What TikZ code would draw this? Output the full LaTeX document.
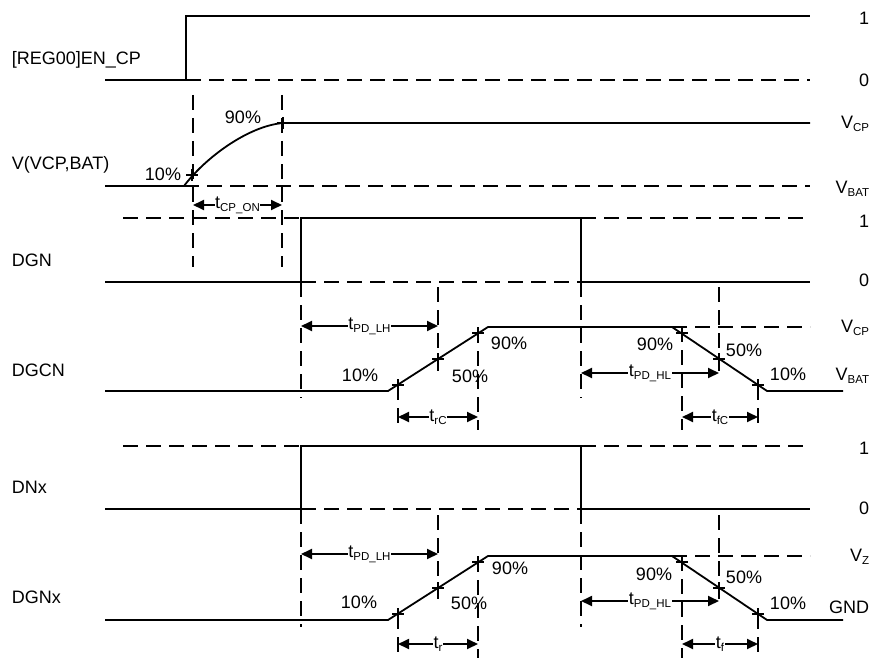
\documentclass[tikz,border=0pt]{standalone}
\usepackage{fontspec}
\setmainfont{Liberation Sans}
\usetikzlibrary{arrows.meta}
\newcommand{\lowtxt}[1]{\raisebox{-0.35ex}{\fontsize{11.5}{12}\selectfont #1}}
\newcommand{\plusmark}[1]{\draw (#1) +(-6,0) -- +(6,0) (#1) +(0,-6) -- +(0,6);}

\begin{document}
\begin{tikzpicture}[
x=1pt, y=-1pt,
every node/.style={inner sep=1pt, font=\fontsize{18}{21}\selectfont},
every path/.style={line width=1.8pt},
guide/.style={dash pattern=on 15pt off 8pt},
dim/.style={{Triangle[length=11pt,width=10pt]}-{Triangle[length=11pt,width=10pt]}},
gap/.style={fill=white, inner sep=0.5pt}
]
\useasboundingbox (0,0) rectangle (875,658);

% signal names
\node[anchor=west] (en) at (10,60) {[REG00]EN\_CP};
\node[anchor=west] (vcp) at (10,165) {V(VCP,BAT)};
\node[anchor=west] (dgn) at (10,260) {DGN};
\node[anchor=west] (dgcn) at (10,370) {DGCN};
\node[anchor=west] (dnx) at (10,487) {DNx};
\node[anchor=west] (dgnx) at (10,597) {DGNx};

% levels
\node[anchor=east] (en1) at (871,18) {1};
\node[anchor=east] (en0) at (871,80) {0};
\node[anchor=east] (vcphi) at (871,124) {V\lowtxt{CP}};
\node[anchor=east] (vcplo) at (871,189) {V\lowtxt{BAT}};
\node[anchor=east] (dgn1) at (871,221) {1};
\node[anchor=east] (dgn0) at (871,280) {0};
\node[anchor=east] (dgcnhi) at (871,328) {V\lowtxt{CP}};
\node[anchor=east] (dgcnlo) at (871,376) {V\lowtxt{BAT}};
\node[anchor=east] (dnx1) at (871,448) {1};
\node[anchor=east] (dnx0) at (871,508) {0};
\node[anchor=east] (dgnxhi) at (871,557) {V\lowtxt{Z}};
\node[anchor=east] (dgnxlo) at (871,607) {GND};

% [REG00]EN_CP
\draw (105,80) -- (186,80) -- (186,16) -- (810,16);
\draw[guide] (186,80) -- (810,80);

% V(VCP,BAT)
\draw (105,186) -- (184,186) .. controls (205,158) and (248,126) .. (283,123) -- (810,123);
\draw[guide] (184,186) -- (810,186);
\plusmark{192,175}
\plusmark{283,123}
\draw[guide] (193,95) -- (193,267);
\draw[guide] (282,95) -- (282,267);
\node (p10a) at (163,174) {10\%};
\node (p90a) at (243,117) {90\%};
\coordinate (cpa) at (193,205);
\coordinate (cpb) at (282,205);
\draw[dim] (cpa) -- (cpb) node[midway, gap] (tcp) {t\lowtxt{CP\_ON}};

% DGN
\draw (105,282) -- (301,282) -- (301,218) -- (581,218) -- (581,282) -- (810,282);
\draw[guide] (123,218) -- (301,218);
\draw[guide] (301,282) -- (581,282);
\draw[guide] (581,218) -- (810,218);

% DGCN
\draw (105,391) -- (388,391) -- (488,327) -- (672,327) -- (767,391) -- (843,391);
\draw[guide] (672,327) -- (810,327);
\plusmark{398,385}
\plusmark{438,359}
\plusmark{478,333}
\plusmark{682,333}
\plusmark{719,359}
\plusmark{758,385}
\draw[guide] (301,282) -- (301,398);
\draw[guide] (438,287) -- (438,373);
\draw[guide] (398,385) -- (398,430);
\draw[guide] (478,328) -- (478,430);
\draw[guide] (581,282) -- (581,398);
\draw[guide] (719,287) -- (719,373);
\draw[guide] (682,327) -- (682,430);
\draw[guide] (758,385) -- (758,430);
\node (c10r) at (360,375) {10\%};
\node (c50r) at (470,376) {50\%};
\node (c90r) at (509,343) {90\%};
\node (c90f) at (655,344) {90\%};
\node (c50f) at (744,350) {50\%};
\node (c10f) at (788,374) {10\%};
\coordinate (clha) at (301,326);
\coordinate (clhb) at (438,326);
\draw[dim] (clha) -- (clhb) node[midway, gap] (tclh) {t\lowtxt{PD\_LH}};
\coordinate (cra) at (398,417);
\coordinate (crb) at (478,417);
\draw[dim] (cra) -- (crb) node[midway, gap] (tcr) {t\lowtxt{rC}};
\coordinate (chla) at (581,373);
\coordinate (chlb) at (719,373);
\draw[dim] (chla) -- (chlb) node[midway, gap] (tchl) {t\lowtxt{PD\_HL}};
\coordinate (cfa) at (682,417);
\coordinate (cfb) at (758,417);
\draw[dim] (cfa) -- (cfb) node[midway, gap] (tcf) {t\lowtxt{fC}};

% DNx
\draw (105,509) -- (301,509) -- (301,446) -- (581,446) -- (581,509) -- (810,509);
\draw[guide] (123,446) -- (301,446);
\draw[guide] (301,509) -- (581,509);
\draw[guide] (581,446) -- (810,446);

% DGNx
\draw (105,620) -- (388,620) -- (488,556) -- (672,556) -- (767,620) -- (843,620);
\draw[guide] (672,556) -- (810,556);
\plusmark{398,614}
\plusmark{438,588}
\plusmark{478,562}
\plusmark{682,562}
\plusmark{719,588}
\plusmark{758,614}
\draw[guide] (301,509) -- (301,627);
\draw[guide] (438,515) -- (438,601);
\draw[guide] (398,614) -- (398,658);
\draw[guide] (478,557) -- (478,658);
\draw[guide] (581,509) -- (581,627);
\draw[guide] (719,515) -- (719,601);
\draw[guide] (682,556) -- (682,658);
\draw[guide] (758,614) -- (758,658);
\node (x10r) at (359,602) {10\%};
\node (x50r) at (469,603) {50\%};
\node (x90r) at (510,568) {90\%};
\node (x90f) at (654,574) {90\%};
\node (x50f) at (744,577) {50\%};
\node (x10f) at (788,603) {10\%};
\coordinate (xlha) at (301,554);
\coordinate (xlhb) at (438,554);
\draw[dim] (xlha) -- (xlhb) node[midway, gap] (txlh) {t\lowtxt{PD\_LH}};
\coordinate (xra) at (398,644);
\coordinate (xrb) at (478,644);
\draw[dim] (xra) -- (xrb) node[midway, gap] (txr) {t\lowtxt{r}};
\coordinate (xhla) at (581,601);
\coordinate (xhlb) at (719,601);
\draw[dim] (xhla) -- (xhlb) node[midway, gap] (txhl) {t\lowtxt{PD\_HL}};
\coordinate (xfa) at (682,644);
\coordinate (xfb) at (758,644);
\draw[dim] (xfa) -- (xfb) node[midway, gap] (txf) {t\lowtxt{f}};
\end{tikzpicture}
\end{document}
